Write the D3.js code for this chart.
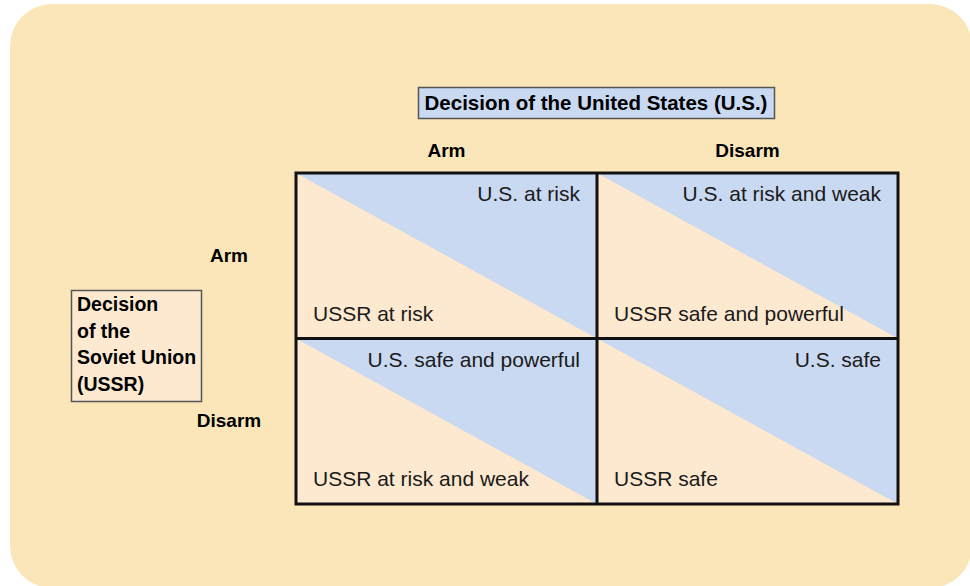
<!DOCTYPE html>
<html>
<head>
<meta charset="utf-8">
<script src="https://cdn.jsdelivr.net/npm/d3@7"></script>
<style>
  html, body { margin: 0; padding: 0; background: #ffffff; }
  svg { display: block; }
  text { font-family: "Liberation Sans", Arial, sans-serif; }
</style>
</head>
<body>
<svg id="chart" width="970" height="586"></svg>
<script>
// ---- data ----
const usDecisions = ["Arm", "Disarm"];        // columns
const ussrDecisions = ["Arm", "Disarm"];      // rows
const usOutcomes = [
  ["U.S. at risk", "U.S. at risk and weak"],
  ["U.S. safe and powerful", "U.S. safe"]
];
const ussrOutcomes = [
  ["USSR at risk", "USSR safe and powerful"],
  ["USSR at risk and weak", "USSR safe"]
];
const colTitle = "Decision of the United States (U.S.)";
const rowTitleLines = ["Decision", "of the", "Soviet Union", "(USSR)"];

// ---- styles ----
const bg = "#FBE6B9";
const peach = "#FCE9CF";
const blue = "#C9D9F1";

const svg = d3.select("#chart");

svg.append("rect")
  .attr("x", 10).attr("y", 4)
  .attr("width", 962).attr("height", 584)
  .attr("rx", 42).attr("ry", 42)
  .attr("fill", bg);

const x = d3.scaleBand().domain(usDecisions).range([296, 898]);
const y = d3.scaleBand().domain(ussrDecisions).range([173, 504]);

const cells = [];
ussrDecisions.forEach((r, i) => {
  usDecisions.forEach((c, j) => {
    cells.push({ r, c, us: usOutcomes[i][j], ussr: ussrOutcomes[i][j] });
  });
});

const g = svg.append("g");
const cell = g.selectAll("g.cell").data(cells).join("g").attr("class", "cell");

cell.append("path")
  .attr("fill", peach)
  .attr("d", d => {
    const x0 = x(d.c), x1 = x0 + x.bandwidth(), y0 = y(d.r), y1 = y0 + y.bandwidth();
    return `M${x0},${y0}L${x0},${y1}L${x1},${y1}Z`;
  });
cell.append("path")
  .attr("fill", blue)
  .attr("d", d => {
    const x0 = x(d.c), x1 = x0 + x.bandwidth(), y0 = y(d.r), y1 = y0 + y.bandwidth();
    return `M${x0},${y0}L${x1},${y0}L${x1},${y1}Z`;
  });

cell.append("text")
  .attr("x", d => x(d.c) + x.bandwidth() - 17)
  .attr("y", d => y(d.r) + 28)
  .attr("text-anchor", "end")
  .attr("font-size", 21)
  .attr("fill", "#1a1a1a")
  .text(d => d.us);

cell.append("text")
  .attr("x", d => x(d.c) + 17)
  .attr("y", d => y(d.r) + y.bandwidth() - 18)
  .attr("text-anchor", "start")
  .attr("font-size", 21)
  .attr("fill", "#1a1a1a")
  .text(d => d.ussr);

// grid lines
const gridStroke = "#111";
g.append("rect")
  .attr("x", x.range()[0]).attr("y", y.range()[0])
  .attr("width", x.range()[1] - x.range()[0])
  .attr("height", y.range()[1] - y.range()[0])
  .attr("fill", "none").attr("stroke", gridStroke).attr("stroke-width", 3);
g.append("line")
  .attr("x1", x("Disarm")).attr("x2", x("Disarm"))
  .attr("y1", y.range()[0]).attr("y2", y.range()[1])
  .attr("stroke", gridStroke).attr("stroke-width", 3);
g.append("line")
  .attr("x1", x.range()[0]).attr("x2", x.range()[1])
  .attr("y1", y("Disarm")).attr("y2", y("Disarm"))
  .attr("stroke", gridStroke).attr("stroke-width", 3);

// column headers
svg.selectAll("text.colh").data(usDecisions).join("text")
  .attr("class", "colh")
  .attr("x", d => x(d) + x.bandwidth() / 2)
  .attr("y", 157)
  .attr("text-anchor", "middle")
  .attr("font-weight", "bold")
  .attr("font-size", 19)
  .attr("fill", "#000")
  .text(d => d);

// row headers
svg.selectAll("text.rowh").data(ussrDecisions).join("text")
  .attr("class", "rowh")
  .attr("x", 229)
  .attr("y", d => y(d) + y.bandwidth() / 2 + 6)
  .attr("text-anchor", "middle")
  .attr("font-weight", "bold")
  .attr("font-size", 19)
  .attr("fill", "#000")
  .text(d => d);

// column title box
svg.append("rect")
  .attr("x", 418.5).attr("y", 87.5).attr("width", 356).attr("height", 31)
  .attr("fill", blue).attr("stroke", "#555").attr("stroke-width", 1.5);
svg.append("text")
  .attr("x", 596).attr("y", 110)
  .attr("text-anchor", "middle")
  .attr("font-weight", "bold")
  .attr("font-size", 20.5)
  .attr("fill", "#000")
  .text(colTitle);

// row title box
svg.append("rect")
  .attr("x", 71.5).attr("y", 290.5).attr("width", 130).attr("height", 111)
  .attr("fill", peach).attr("stroke", "#555").attr("stroke-width", 1.5);
svg.append("g").selectAll("text").data(rowTitleLines).join("text")
  .attr("x", 77)
  .attr("y", (d, i) => 311 + i * 26.7)
  .attr("font-weight", "bold")
  .attr("font-size", 19.5)
  .attr("fill", "#000")
  .text(d => d);
</script>
</body>
</html>
